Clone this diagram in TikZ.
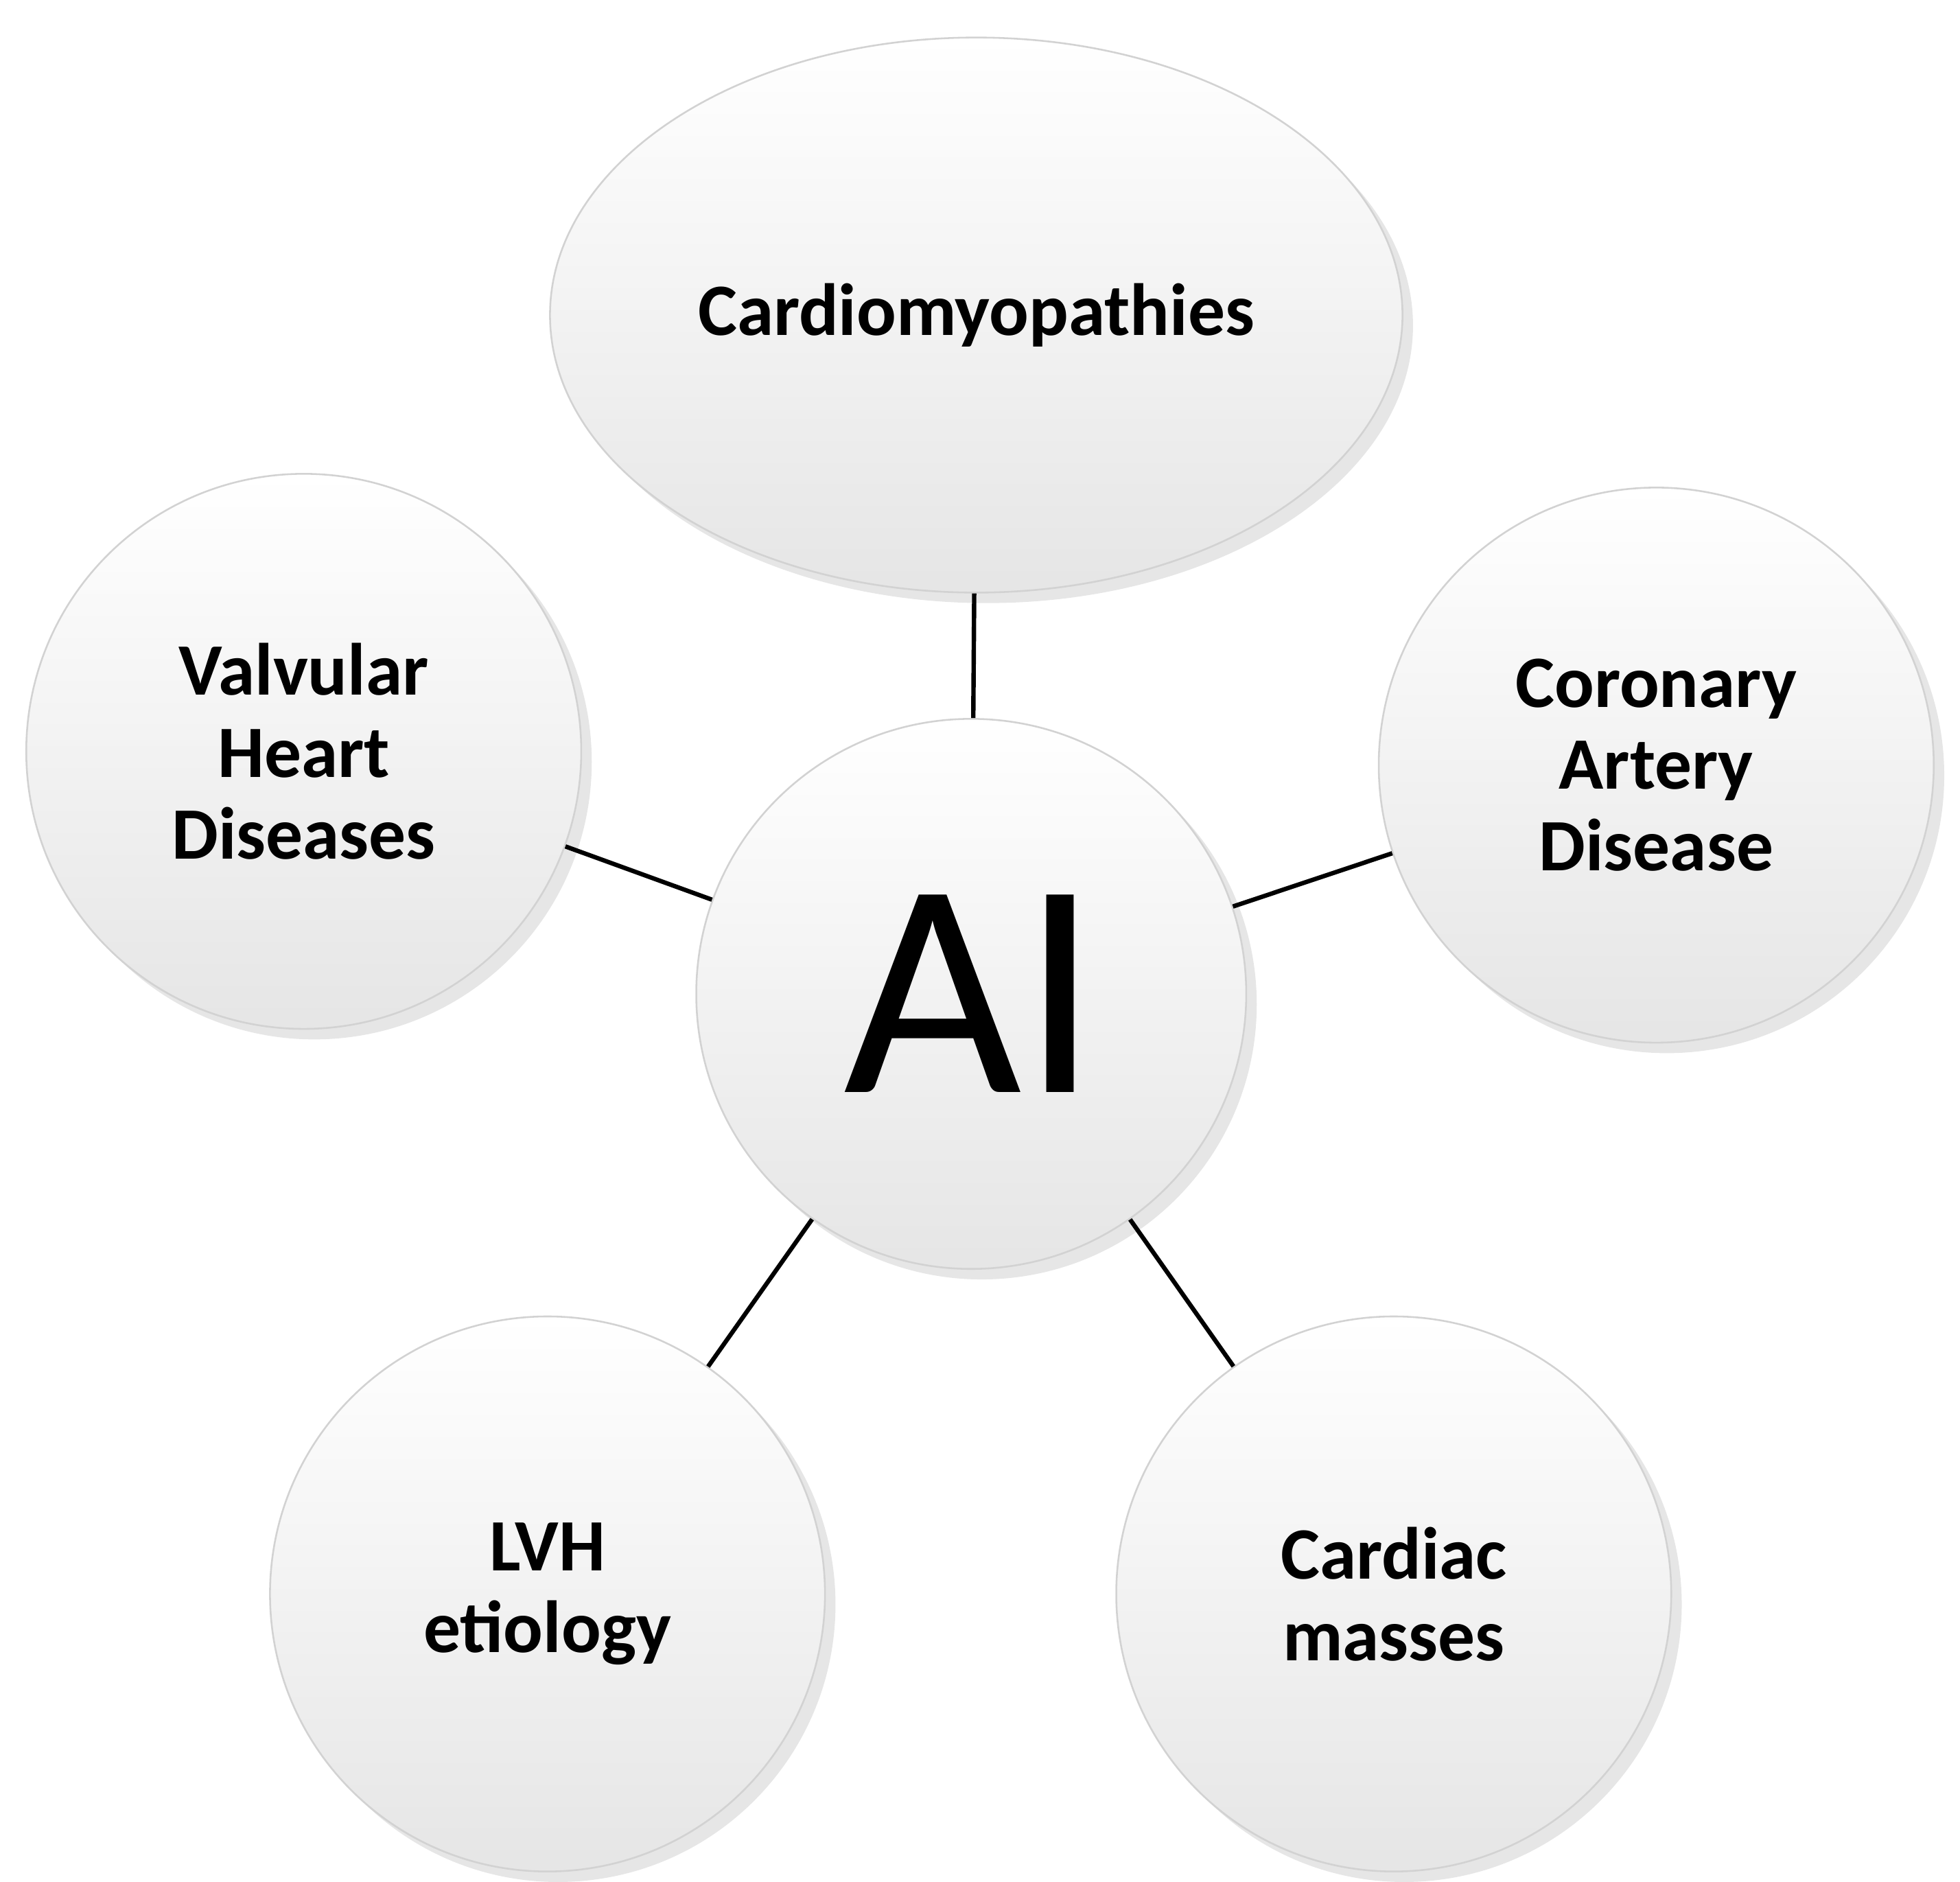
\documentclass[tikz,border=0pt]{standalone}
\usepackage{fontspec}
\setmainfont{Carlito}
\usetikzlibrary{shapes.geometric,shadows}
\begin{document}
\begin{tikzpicture}[x=0.01cm,y=-0.01cm,
  bub/.style={draw=gray!35,line width=0.4pt,top color=white,bottom color=gray!20,
    drop shadow={shadow xshift=0.5ex,shadow yshift=-0.5ex,opacity=0.2},
    align=center,font=\bfseries\fontsize{16.8}{18.6}\selectfont,inner sep=0pt},
  circ/.style={bub,circle,minimum size=444*0.01cm},
  link/.style={line width=1pt,black}]
\useasboundingbox (0,0) rectangle (1568,1505);
\node[bub,ellipse,minimum width=682*0.01cm,minimum height=444*0.01cm] (card) at (781,252) {Cardiomyopathies};
\node[circ,minimum size=440*0.01cm,font=\fontsize{70}{70}\selectfont] (ai) at (777,795) {AI};
\node[circ] (valv) at (243,601) {Valvular\\Heart\\Diseases};
\node[circ] (cor) at (1325,612) {Coronary\\Artery\\Disease};
\node[circ] (lvh) at (438,1275) {LVH\\etiology};
\node[circ] (mass) at (1115,1275) {Cardiac\\masses};
\draw[link] (card) -- (ai);
\draw[link] (valv) -- (ai);
\draw[link] (cor) -- (ai);
\draw[link] (lvh) -- (ai);
\draw[link] (mass) -- (ai);
\end{tikzpicture}
\end{document}
